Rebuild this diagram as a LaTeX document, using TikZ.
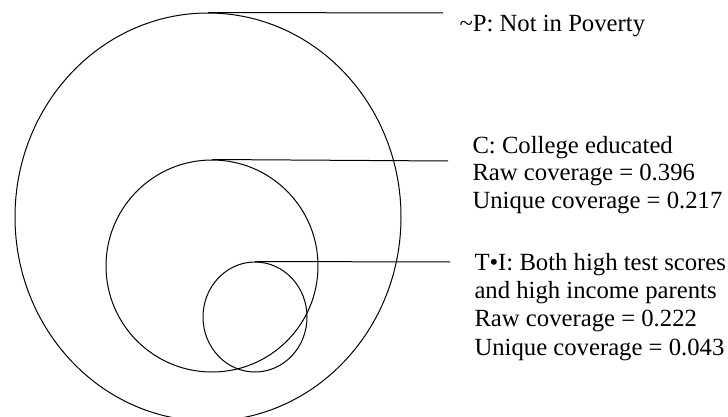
\documentclass[tikz,border=0pt]{standalone}
\usepackage{fontspec}
\setmainfont{Liberation Serif}
\usetikzlibrary{shapes.geometric}
\begin{document}
\begin{tikzpicture}[x=1pt, y=-1pt, line width=1pt,
  set/.style={ellipse, draw, inner sep=0pt},
  lab/.style={anchor=base west, align=left, inner sep=0pt, font=\fontsize{24.7}{27.5}\selectfont}]
  \useasboundingbox (0,0) rectangle (728,417);
  \clip (0,0) rectangle (728,417);
  % sets
  \node[set, minimum width=386pt, minimum height=408pt] (p) at (208,217) {};
  \node[set, minimum width=212pt, minimum height=212pt] (c) at (212,266) {};
  \node[set, minimum width=104pt, minimum height=110pt] (ti) at (255,317) {};
  % labels (base = last line)
  \node[lab] (lp) at (459,32) {\textasciitilde P: Not in Poverty};
  \node[lab] (lc) at (472,208) {C: College educated\\Raw coverage = 0.396\\Unique coverage = 0.217};
  \node[lab, font=\fontsize{24.7}{28.3}\selectfont] (lti) at (474,355) {T\textbullet I: Both high test scores\\and high income parents\\Raw coverage = 0.222\\Unique coverage = 0.043};
  \coordinate (ep) at (443,13);
  \coordinate (ec) at (448,161);
  \coordinate (eti) at (450,262);
  \draw (p.north) -- (ep);
  \draw (c.north) -- (ec);
  \draw (ti.north) -- (eti);
\end{tikzpicture}
\end{document}
